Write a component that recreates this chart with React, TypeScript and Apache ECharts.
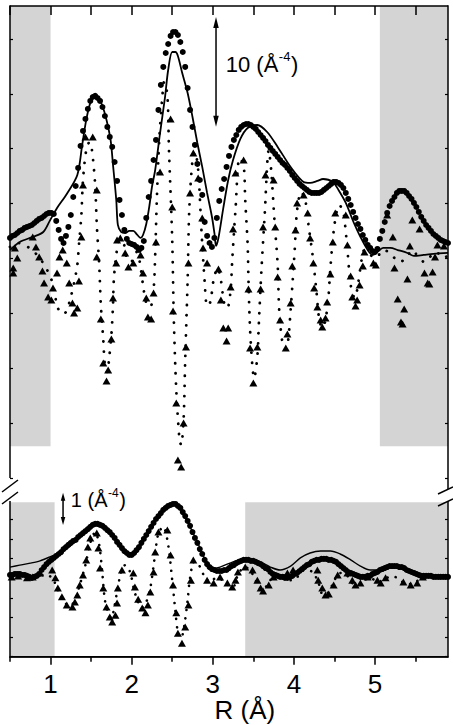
import React, { useEffect, useRef } from 'react';
import * as echarts from 'echarts';

const FONT = "'Liberation Sans', Arial, Helvetica, sans-serif";

// R grid of the measured magnitude (Å)
const R_START = 0.5;
const R_STEP = 0.03;

// x axis tick labels (Å)
const xTickLabels = [1, 2, 3, 4, 5];
const xMinorTicks = [0.5, 1.5, 2.5, 3.5, 4.5, 5.5];

// ---------- upper panel ----------
const topMagExp = [
  1.87, 2.05, 2.14, 2.32, 2.51, 2.6, 2.78, 2.87, 2.96, 3.05,
  3.23, 3.42, 3.6, 3.69, 3.87, 4.05, 4.15, 4.15, 4.05, 3.42,
  2.6, 1.78, 1.41, 2.05, 2.87, 3.96, 5.6, 6.6, 8.25, 10.25,
  11.62, 12.71, 13.62, 14.35, 14.71, 14.81, 14.62, 14.35, 13.8, 12.98,
  11.98, 11.07, 10.16, 8.79, 7.06, 5.33, 3.96, 2.6, 1.78, 1.41,
  1.32, 1.23, 1.05, 0.77, 0.96, 1.59, 3.69, 5.6, 7.06, 8.97,
  10.8, 13.53, 15.81, 17.45, 18.72, 19.54, 20.27, 20.63, 20.63, 20.36,
  19.72, 18.81, 17.45, 15.53, 13.53, 11.98, 10.34, 8.61, 7.15, 5.79,
  3.32, 2.05, 1.41, 1.05, 1.87, 3.69, 5.24, 6.33, 7.24, 8.34,
  9.34, 10.16, 10.8, 11.25, 11.71, 11.98, 12.16, 12.25, 12.25, 12.16,
  11.98, 11.8, 11.52, 11.25, 10.98, 10.7, 10.34, 10.07, 9.79, 9.52,
  9.25, 8.97, 8.7, 8.52, 8.24, 7.97, 7.61, 7.33, 7.06, 6.79,
  6.6, 6.42, 6.24, 6.06, 5.97, 5.97, 5.97, 5.97, 6.06, 6.24,
  6.42, 6.6, 6.79, 6.97, 6.97, 6.88, 6.7, 6.42, 5.97, 5.42,
  4.87, 4.24, 3.69, 3.14, 2.69, 2.14, 1.69, 1.23, 0.96, 0.68,
  0.59, 0.87, 1.78, 2.51, 3.32, 4.15, 4.78, 5.24, 5.6, 5.97,
  6.15, 6.15, 6.15, 5.97, 5.69, 5.42, 5.06, 4.69, 4.24, 3.78,
  3.42, 3.05, 2.78, 2.51, 2.23, 2.05, 1.87, 1.69, 1.59, 1.5, 1.41,
];

const topMagFit = [
  [0.5, 0.77], [0.62, 1.5], [0.78, 1.96], [0.91, 2.41], [0.99, 3.42], [1.08, 4.6], [1.2, 5.88],
  [1.33, 7.61], [1.39, 10.34], [1.44, 12.62], [1.49, 14.17], [1.54, 14.71], [1.59, 14.62],
  [1.64, 13.89], [1.69, 12.62], [1.74, 10.8], [1.77, 8.52], [1.81, 5.33], [1.83, 3.05],
  [1.87, 2.41], [1.92, 2.32], [1.97, 2.51], [2.02, 2.51], [2.07, 2.14], [2.11, 1.87],
  [2.14, 2.14], [2.18, 3.14], [2.22, 4.87], [2.25, 6.51], [2.29, 8.06], [2.35, 11.43],
  [2.41, 14.62], [2.45, 17.17], [2.5, 18.81], [2.54, 18.81], [2.57, 18.45], [2.62, 16.99],
  [2.69, 15.08], [2.75, 12.89], [2.81, 10.52], [2.87, 8.34], [2.93, 5.97], [2.99, 3.78],
  [3.02, 2.32], [3.04, 1.14], [3.07, 1.87], [3.13, 4.6], [3.19, 7.15], [3.25, 8.97],
  [3.34, 10.89], [3.43, 11.89], [3.55, 12.16], [3.67, 11.52], [3.8, 10.16], [3.96, 8.34],
  [4.12, 6.97], [4.2, 6.88], [4.29, 7.06], [4.36, 7.24], [4.48, 6.97], [4.55, 6.24],
  [4.64, 5.06], [4.74, 3.23], [4.82, 1.96], [4.91, 0.77], [4.97, 0.32], [5.03, 0.59],
  [5.1, 0.96], [5.19, 0.96], [5.28, 0.77], [5.4, 0.5], [5.48, 0.23], [5.6, 0.32],
  [5.72, 0.41], [5.9, 0.5],
];

const topImExp = [
  [0.54, -0.87], [0.54, -1.32], [0.56, 0.96], [0.59, 0.05], [0.78, 1.96], [0.82, 1.05], [0.86, 0.14],
  [0.9, -1.14], [0.92, -2.23], [0.97, -3.51], [1.01, -3.78], [1.03, -2.69], [1.08, -1.32],
  [1.11, 0.14], [1.15, 0.77], [1.2, -0.41], [1.23, -2.23], [1.27, -4.05], [1.29, -4.96],
  [1.33, -4.51], [1.35, -2.05], [1.38, 1.96], [1.4, 6.7], [1.43, 11.07], [1.52, 11.07],
  [1.57, 6.24], [1.57, 0.14], [1.62, -5.51], [1.65, -9.52], [1.69, -11.16], [1.71, -10.16],
  [1.75, -7.33], [1.77, -3.6], [1.81, -0.41], [1.82, 1.69], [1.86, 1.87], [1.92, 0.5],
  [1.96, -0.77], [2.02, -0.41], [2.11, 0.32], [2.14, -1.32], [2.18, -3.6], [2.2, -5.33],
  [2.24, -5.51], [2.27, -3.14], [2.3, 1.5], [2.35, 7.88], [2.48, 12.71], [2.5, 4.69],
  [2.51, -4.78], [2.55, -13.16], [2.57, -18.36], [2.61, -19.0], [2.64, -14.99], [2.67, -8.06],
  [2.7, -0.41], [2.72, 5.97], [2.76, 9.61], [2.82, 7.33], [2.87, 3.69], [2.88, 0.96],
  [2.93, -0.41], [3.07, -0.96], [3.1, -3.78], [3.13, -6.33], [3.17, -7.52], [3.19, -6.33],
  [3.22, -2.6], [3.25, 2.69], [3.28, 7.79], [3.38, 8.97], [3.44, -2.78], [3.46, -8.15],
  [3.5, -11.34], [3.55, -8.06], [3.59, -2.78], [3.62, 2.87], [3.65, 7.61], [3.75, 7.15],
  [3.77, 2.87], [3.8, -1.69], [3.83, -5.6], [3.9, -8.15], [3.92, -6.88], [3.96, -4.05],
  [3.98, -0.68], [4.02, 2.6], [4.04, 5.06], [4.12, 5.78], [4.17, 4.15], [4.2, 1.87],
  [4.24, -0.41], [4.25, -2.69], [4.29, -4.42], [4.33, -5.6], [4.35, -6.24], [4.39, -5.42],
  [4.41, -3.96], [4.45, -1.41], [4.48, 1.5], [4.51, 4.15], [4.64, 3.96], [4.66, 1.23],
  [4.7, -1.59], [4.72, -3.51], [4.76, -4.33], [4.78, -3.78], [4.81, -2.41], [4.85, -0.68],
  [4.87, 0.59], [4.98, -0.41], [5.01, -0.59], [5.15, 3.96], [5.22, 1.96], [5.24, -0.87],
  [5.28, -3.69], [5.32, -5.79], [5.34, -5.97], [5.36, -4.6], [5.4, -1.87], [5.43, 1.14],
  [5.46, 3.51], [5.55, 2.69], [5.61, -1.32], [5.65, -2.23], [5.67, -2.32], [5.71, -1.23],
  [5.74, 0.14], [5.77, 1.23], [5.85, 1.14],
];

const topImFit = [
  [0.5, 1.05], [0.6, 1.41], [0.7, 1.14], [0.8, 0.59], [0.9, -0.32], [0.97, -1.23], [1.02, -2.14],
  [1.06, -3.6], [1.09, -4.51], [1.14, -5.06], [1.19, -4.87], [1.24, -3.78], [1.29, -2.23],
  [1.33, -0.59], [1.35, 1.23], [1.38, 3.96], [1.4, 7.15], [1.44, 9.88], [1.48, 10.61],
  [1.51, 9.88], [1.55, 6.7], [1.57, 3.05], [1.6, -0.59], [1.62, -4.24], [1.65, -7.42],
  [1.67, -9.7], [1.7, -10.34], [1.72, -9.25], [1.75, -6.97], [1.77, -4.24], [1.78, -1.96],
  [1.81, 0.32], [1.85, 1.69], [1.9, 1.41], [1.94, 0.05], [1.99, -0.32], [2.06, 0.59],
  [2.1, -0.32], [2.14, -2.41], [2.18, -4.05], [2.23, -4.42], [2.27, -2.87], [2.29, 0.32],
  [2.31, 5.33], [2.34, 10.8], [2.38, 14.9], [2.4, 16.08], [2.44, 14.9], [2.46, 9.88],
  [2.5, 1.69], [2.52, -5.6], [2.55, -11.98], [2.59, -16.53], [2.61, -16.99], [2.64, -14.71],
  [2.66, -9.25], [2.69, -1.96], [2.71, 4.42], [2.75, 8.97], [2.78, 9.7], [2.82, 8.06],
  [2.86, 2.6], [2.9, -2.14], [2.93, -4.33], [2.97, -3.96], [3.01, -1.96], [3.06, -0.87],
  [3.1, -1.96], [3.14, -4.05], [3.18, -4.51], [3.22, -2.87], [3.24, -0.14], [3.28, 4.42],
  [3.33, 9.15], [3.38, 8.52], [3.4, 5.33], [3.43, 1.23], [3.44, -1.96], [3.46, -6.51],
  [3.49, -9.97], [3.51, -10.89], [3.55, -8.88], [3.57, -5.6], [3.6, -1.05], [3.64, 3.96],
  [3.69, 9.88], [3.72, 8.06], [3.76, 3.51], [3.8, -0.59], [3.82, -4.87], [3.86, -7.7],
  [3.9, -8.24], [3.93, -7.42], [3.96, -4.69], [3.98, -2.6], [4.01, 0.77], [4.04, 4.42],
  [4.09, 6.06], [4.14, 5.33], [4.18, 3.05], [4.23, 0.32], [4.28, -3.14], [4.31, -5.42],
  [4.35, -6.33], [4.39, -5.6], [4.43, -3.14], [4.45, -0.87], [4.5, 3.05], [4.56, 4.87],
  [4.61, 4.24], [4.66, 0.77], [4.7, -2.41], [4.75, -3.6], [4.78, -2.87], [4.82, -0.87],
  [4.87, 0.77], [4.94, 0.32], [5.02, 0.05], [5.09, 0.77], [5.17, 0.59], [5.24, 0.05],
  [5.31, -0.32], [5.39, 0.14], [5.46, 0.77], [5.54, 0.05], [5.61, -0.32], [5.69, 0.23],
  [5.76, 0.59], [5.83, 0.05], [5.9, 0.23],
];

// ---------- lower panel ----------
const botMagExp = [
  0.1, 0.1, 0.13, 0.13, 0.13, 0.1, 0.1, 0.07, 0.04, 0.01,
  0.04, 0.07, 0.13, 0.25, 0.34, 0.43, 0.5, 0.56, 0.62, 0.68,
  0.74, 0.8, 0.89, 0.95, 1.02, 1.08, 1.14, 1.17, 1.26, 1.32,
  1.38, 1.44, 1.5, 1.57, 1.63, 1.66, 1.66, 1.63, 1.6, 1.54,
  1.47, 1.41, 1.32, 1.23, 1.11, 1.02, 0.92, 0.83, 0.77, 0.71,
  0.71, 0.77, 0.86, 0.95, 1.08, 1.2, 1.32, 1.44, 1.57, 1.69,
  1.81, 1.9, 1.99, 2.09, 2.15, 2.21, 2.24, 2.27, 2.27, 2.21,
  2.15, 2.02, 1.9, 1.75, 1.6, 1.41, 1.23, 1.08, 0.89, 0.74,
  0.56, 0.43, 0.34, 0.28, 0.25, 0.22, 0.22, 0.22, 0.25, 0.25,
  0.31, 0.37, 0.4, 0.46, 0.5, 0.53, 0.56, 0.56, 0.56, 0.53,
  0.53, 0.5, 0.46, 0.43, 0.37, 0.31, 0.28, 0.19, 0.13, 0.1,
  0.07, 0.04, 0.04, 0.01, 0.01, 0.04, 0.07, 0.13, 0.16, 0.22,
  0.28, 0.34, 0.4, 0.43, 0.5, 0.53, 0.56, 0.56, 0.59, 0.59,
  0.59, 0.56, 0.56, 0.53, 0.5, 0.43, 0.37, 0.31, 0.25, 0.19,
  0.16, 0.13, 0.1, 0.07, 0.04, 0.04, 0.04, 0.07, 0.07, 0.13,
  0.16, 0.19, 0.25, 0.28, 0.31, 0.34, 0.37, 0.37, 0.37, 0.37,
  0.34, 0.34, 0.31, 0.25, 0.22, 0.19, 0.16, 0.13, 0.1, 0.07,
  0.07, 0.07, 0.07, 0.07, 0.04, 0.04, 0.04, 0.04, 0.04, 0.04, 0.04,
];

const botMagFit = [
  [0.5, 0.34], [0.62, 0.4], [0.75, 0.46], [0.87, 0.53], [0.99, 0.65], [1.12, 0.8], [1.24, 0.98],
  [1.4, 1.32], [1.57, 1.66], [1.73, 1.41], [1.9, 0.89], [1.98, 0.77], [2.1, 1.02], [2.27, 1.69],
  [2.44, 2.18], [2.5, 2.27], [2.6, 2.15], [2.72, 1.57], [2.81, 1.11], [2.91, 0.56], [3.01, 0.31],
  [3.09, 0.34], [3.25, 0.5], [3.34, 0.56], [3.44, 0.59], [3.52, 0.56], [3.62, 0.46], [3.71, 0.34],
  [3.83, 0.25], [3.96, 0.37], [4.08, 0.62], [4.2, 0.77], [4.33, 0.83], [4.45, 0.83], [4.57, 0.74],
  [4.7, 0.56], [4.82, 0.37], [4.94, 0.25], [5.03, 0.25], [5.13, 0.34], [5.23, 0.37], [5.31, 0.34],
  [5.44, 0.25], [5.56, 0.13], [5.75, 0.07], [5.9, 0.04],
];

const botImExp = [
  [0.52, 0.04], [0.6, 0.07], [0.71, 0.01], [0.78, 0.04], [0.87, 0.16], [1.02, 0.25], [1.06, 0.01],
  [1.09, -0.3], [1.14, -0.57], [1.2, -0.82], [1.27, -0.88], [1.3, -0.73], [1.33, -0.51],
  [1.36, -0.21], [1.4, 0.1], [1.44, 0.56], [1.46, 0.95], [1.49, 1.23], [1.57, 1.38], [1.59, 0.92],
  [1.61, 0.31], [1.65, -0.3], [1.69, -0.88], [1.73, -1.19], [1.76, -1.34], [1.8, -1.13],
  [1.82, -0.76], [1.83, -0.3], [1.88, 0.25], [2.02, 0.16], [2.04, -0.27], [2.08, -0.64],
  [2.13, -0.91], [2.17, -1.06], [2.2, -0.82], [2.23, -0.42], [2.27, 0.19], [2.29, 0.8],
  [2.33, 1.41], [2.44, 1.47], [2.48, 0.71], [2.51, -0.21], [2.55, -1.06], [2.57, -1.68],
  [2.62, -1.99], [2.66, -1.49], [2.7, -0.82], [2.73, -0.06], [2.76, 0.56], [2.93, -0.06],
  [3.01, -0.15], [3.09, 0.04], [3.18, -0.15], [3.24, -0.27], [3.28, -0.06], [3.31, 0.19],
  [3.4, 0.34], [3.49, 0.25], [3.55, -0.06], [3.59, -0.3], [3.62, -0.39], [3.69, -0.21],
  [3.75, 0.04], [3.92, 0.16], [3.99, 0.25], [4.29, 0.25], [4.3, -0.06], [4.35, -0.3],
  [4.39, -0.51], [4.43, -0.48], [4.49, -0.21], [4.54, 0.1], [4.66, 0.16], [4.72, -0.06],
  [4.76, -0.21], [4.82, -0.15], [4.91, 0.04], [5.03, -0.06], [5.07, -0.15], [5.13, 0.01],
  [5.35, -0.12], [5.44, -0.21], [5.52, -0.15], [5.59, 0.04],
];

const botImFit = [
  [0.5, 0.04], [0.62, 0.01], [0.78, 0.04], [0.93, 0.1], [1.02, 0.01], [1.09, -0.36], [1.17, -0.73],
  [1.24, -0.85], [1.3, -0.67], [1.36, -0.21], [1.43, 0.4], [1.49, 1.08], [1.55, 1.41], [1.6, 1.02],
  [1.64, 0.1], [1.67, -0.67], [1.71, -1.06], [1.75, -1.22], [1.78, -0.97], [1.82, -0.42],
  [1.87, 0.19], [1.92, 0.4], [1.98, 0.19], [2.03, -0.36], [2.08, -0.73], [2.13, -0.91],
  [2.18, -0.73], [2.23, -0.3], [2.28, 0.56], [2.33, 1.38], [2.39, 1.57], [2.45, 1.02],
  [2.5, -0.06], [2.54, -1.03], [2.57, -1.65], [2.61, -1.83], [2.65, -1.43], [2.69, -0.67],
  [2.72, 0.01], [2.77, 0.5], [2.83, 0.4], [2.9, 0.04], [2.97, -0.12], [3.04, 0.01], [3.12, -0.06],
  [3.19, -0.21], [3.25, -0.27], [3.31, 0.1], [3.39, 0.34], [3.46, 0.25], [3.54, -0.12],
  [3.61, -0.36], [3.69, -0.15], [3.76, 0.1], [3.86, 0.1], [3.96, -0.06], [4.03, 0.01],
  [4.13, 0.25], [4.23, 0.19], [4.3, -0.12], [4.36, -0.51], [4.43, -0.42], [4.5, -0.06],
  [4.57, 0.16], [4.65, 0.1], [4.72, -0.15], [4.8, -0.21], [4.87, -0.06], [4.94, 0.01],
  [5.04, -0.12], [5.14, 0.01], [5.24, 0.04], [5.34, -0.12], [5.44, -0.18], [5.54, -0.06],
  [5.64, 0.04], [5.76, 0.01], [5.9, 0.04],
];

// tick positions
const topYTicks = [-20, -15, -10, -5, 0, 5, 10, 15, 20];
const botYTicks = [-2.4, -1.8, -1.2, -0.6, 0, 0.6, 1.2, 1.8];
const topXTicks = [0.5, 1, 1.5, 2, 2.5, 3, 3.5, 4, 4.5, 5, 5.5];

// axis ranges
const X_RANGE = [0.5, 5.9];
const TOP_Y = [-20, 23];
const BOT_Y = [-2.4, 2.36];

// excluded (shaded) R ranges
const topShade = [[0.5, 1.0], [5.06, 5.9]];
const botShade = [[0.5, 1.05], [3.4, 5.9]];

const onGrid = (vals: number[]) => vals.map((v, i) => [+(R_START + i * R_STEP).toFixed(3), v]);

const BLACK = '#000';
const noLabel = () => ({ show: false });
const noSplit = () => ({ show: false });
const hiddenLine = () => ({ show: false, onZero: false });

// tick-only axes, shifted into the plot so that ticks point inwards
function yTicks(grid: number, pos: string, range: number[], ticks: number[]) {
  return {
    type: 'value', gridIndex: grid, position: pos, min: range[0], max: range[1], offset: -3, z: 10,
    axisLine: hiddenLine(),
    axisTick: { show: true, inside: false, length: 3, customValues: ticks, lineStyle: { color: BLACK, width: 1.2 } },
    axisLabel: noLabel(), splitLine: noSplit(),
  };
}

function buildOption() {
  const dotted = { color: BLACK, width: 2.8, type: [0.1, 10], cap: 'round' };
  const solid = { color: BLACK, opacity: 1 };
  return {
    animation: false,
    backgroundColor: '#fff',
    textStyle: { fontFamily: FONT },
    grid: [
      { left: 10, right: 5, top: 6, height: 472 },
      { left: 10, right: 5, top: 501, height: 155.7 },
    ],
    xAxis: [
      {
        type: 'value', gridIndex: 0, position: 'top', min: X_RANGE[0], max: X_RANGE[1], offset: -9, z: 10,
        axisLine: hiddenLine(),
        axisTick: { show: true, inside: false, length: 9, customValues: topXTicks, lineStyle: { color: BLACK, width: 1.5 } },
        axisLabel: noLabel(), splitLine: noSplit(),
      },
      {
        type: 'value', gridIndex: 1, position: 'bottom', min: X_RANGE[0], max: X_RANGE[1], interval: 0.5, z: 10,
        axisLine: { show: true, onZero: false, lineStyle: { color: BLACK, width: 1.5 } },
        axisTick: { show: true, inside: false, length: 5, customValues: xMinorTicks, lineStyle: { color: BLACK, width: 1.5 } },
        axisLabel: {
          show: true, customValues: xTickLabels, margin: 14, fontSize: 26, color: BLACK, fontFamily: FONT,
          formatter: (v: number) => (Number.isInteger(v) ? String(v) : ''),
        },
        splitLine: noSplit(),
      },
      {
        type: 'value', gridIndex: 1, position: 'bottom', min: X_RANGE[0], max: X_RANGE[1], interval: 0.5, z: 10,
        axisLine: hiddenLine(),
        axisTick: { show: true, inside: false, length: 8, customValues: xTickLabels, lineStyle: { color: BLACK, width: 1.5 } },
        axisLabel: noLabel(), splitLine: noSplit(),
      },
    ],
    yAxis: [
      yTicks(0, 'left', TOP_Y, topYTicks),
      yTicks(0, 'right', TOP_Y, topYTicks),
      yTicks(1, 'left', BOT_Y, botYTicks),
      yTicks(1, 'right', BOT_Y, botYTicks),
    ],
    series: [
      {
        type: 'line', xAxisIndex: 0, yAxisIndex: 0, data: [[0.5, 0]], showSymbol: false,
        lineStyle: { opacity: 0 }, silent: true, z: 1,
        markArea: {
          silent: true, itemStyle: { color: '#d4d4d4' },
          data: topShade.map(([a, b]) => [{ xAxis: a, yAxis: -17.1 }, { xAxis: b, yAxis: TOP_Y[1] }]),
        },
      },
      {
        type: 'line', xAxisIndex: 1, yAxisIndex: 2, data: [[0.5, 0]], showSymbol: false,
        lineStyle: { opacity: 0 }, silent: true, z: 1,
        markArea: {
          silent: true, itemStyle: { color: '#d4d4d4' },
          data: botShade.map(([a, b]) => [{ xAxis: a, yAxis: BOT_Y[0] }, { xAxis: b, yAxis: 2.32 }]),
        },
      },
      // upper panel
      { type: 'line', xAxisIndex: 0, yAxisIndex: 0, data: topImFit, smooth: 0.3, showSymbol: false, lineStyle: dotted, z: 3 },
      { type: 'scatter', xAxisIndex: 0, yAxisIndex: 0, data: topImExp, symbol: 'triangle', symbolSize: [8, 7], itemStyle: solid, z: 4 },
      { type: 'scatter', xAxisIndex: 0, yAxisIndex: 0, data: onGrid(topMagExp), symbol: 'circle', symbolSize: 6, itemStyle: solid, z: 5 },
      { type: 'line', xAxisIndex: 0, yAxisIndex: 0, data: topMagFit, smooth: 0.3, showSymbol: false, lineStyle: { color: BLACK, width: 1.8 }, z: 6 },
      // lower panel
      { type: 'line', xAxisIndex: 1, yAxisIndex: 2, data: botImFit, smooth: 0.3, showSymbol: false, lineStyle: { ...dotted, width: 2.6, type: [0.1, 8] }, z: 3 },
      { type: 'scatter', xAxisIndex: 1, yAxisIndex: 2, data: botImExp, symbol: 'triangle', symbolSize: [8, 7], itemStyle: solid, z: 4 },
      { type: 'scatter', xAxisIndex: 1, yAxisIndex: 2, data: onGrid(botMagExp), symbol: 'circle', symbolSize: 6, itemStyle: solid, z: 5 },
      { type: 'line', xAxisIndex: 1, yAxisIndex: 2, data: botMagFit, smooth: 0.3, showSymbol: false, lineStyle: { color: BLACK, width: 1.4 }, z: 6 },
    ],
  };
}

// scale bars and their labels (data coordinates)
const topBar = { r: 3.04, from: 12, to: 22 };
const topBarLabel = { r: 3.16, v: 17.7 };
const botBar = { r: 1.154, from: 1.63, to: 2.61 };
const botBarLabel = { r: 1.25, v: 2.38 };

export default function App() {
  const ref = useRef<HTMLDivElement>(null);
  useEffect(() => {
    document.body.style.margin = '0';
    const el = ref.current as HTMLDivElement;
    const chart = echarts.init(el, undefined, { renderer: 'svg' });
    chart.setOption(buildOption() as any);

    const toPx = (panel: number, r: number, v: number) =>
      chart.convertToPixel({ seriesIndex: panel === 0 ? 2 : 6 }, [r, v]) as number[];

    const line = (a: number[], b: number[], w = 1.5) => ({
      type: 'line', z: 20, shape: { x1: a[0], y1: a[1], x2: b[0], y2: b[1] }, style: { stroke: BLACK, lineWidth: w },
    });

    const arrow = (x: number, yTop: number, yBot: number, head: number, w: number) => [
      line([x, yTop + head * 0.7], [x, yBot - head * 0.7]),
      { type: 'polygon', shape: { points: [[x, yTop], [x - w / 2, yTop + head], [x + w / 2, yTop + head]] }, style: { fill: BLACK }, z: 20 },
      { type: 'polygon', shape: { points: [[x, yBot], [x - w / 2, yBot - head], [x + w / 2, yBot - head]] }, style: { fill: BLACK }, z: 20 },
    ];

    const tA = toPx(0, topBar.r, topBar.to);
    const tB = toPx(0, topBar.r, topBar.from);
    const tL = toPx(0, topBarLabel.r, topBarLabel.v);
    const bA = toPx(1, botBar.r, botBar.to);
    const bB = toPx(1, botBar.r, botBar.from);
    const bL = toPx(1, botBarLabel.r, botBarLabel.v);

    // frame corners
    const tTL = toPx(0, X_RANGE[0], TOP_Y[1]);
    const tTR = toPx(0, X_RANGE[1], TOP_Y[1]);
    const tBL = toPx(0, X_RANGE[0], TOP_Y[0]);
    const tBR = toPx(0, X_RANGE[1], TOP_Y[0]);
    const bTL = toPx(1, X_RANGE[0], BOT_Y[1]);
    const bTR = toPx(1, X_RANGE[1], BOT_Y[1]);
    const bBL = toPx(1, X_RANGE[0], BOT_Y[0]);
    const bBR = toPx(1, X_RANGE[1], BOT_Y[0]);

    const txt = (x: number, y: number, text: string, size: number) => ({
      type: 'text', x, y, z: 20,
      style: { text, fontSize: size, fontFamily: FONT, fill: BLACK, align: 'left', verticalAlign: 'middle' },
    });
    const measure = (s: string, size: number) => {
      const c = document.createElement('canvas').getContext('2d');
      if (!c) return s.length * size * 0.5;
      c.font = `${size}px ${FONT}`;
      return c.measureText(s).width;
    };
    // unit label: main text, superscript and closing parenthesis
    const unitLabel = (x: number, y: number, main: string, size: number, sup: number, supRise: number) => {
      const w1 = measure(main, size);
      const w2 = measure('-4', sup);
      return [
        txt(x, y, main, size),
        txt(x + w1 + 0.5, y - supRise, '-4', sup),
        txt(x + w1 + w2 + 1, y, ')', size),
      ];
    };

    chart.setOption({
      graphic: [
        // frame
        line([tTL[0], tTL[1]], [tTR[0], tTR[1]]),
        line([tTL[0], tTL[1] - 0.75], [tBL[0], tBL[1]]),
        line([tTR[0], tTR[1] - 0.75], [tBR[0], tBR[1] + 11]),
        line([bTL[0], bTL[1]], [bBL[0], bBL[1] + 0.75]),
        line([bTR[0], bTR[1]], [bBR[0], bBR[1] + 0.75]),
        line([bBL[0], bBL[1]], [bBR[0], bBR[1]]),
        // scale bars
        ...arrow(tA[0], tA[1], tB[1], 11, 5.5),
        ...arrow(bA[0], bA[1], bB[1], 8, 4.5),
        ...unitLabel(tL[0], tL[1], '10 (Å', 22, 13, 8),
        ...unitLabel(bL[0], bL[1], '1 (Å', 20, 12, 7),
        txt(214.5, 709.5, 'R (Å)', 26),
        // axis break marks
        line([2, 492], [18, 480]),
        line([2, 504], [18, 492]),
        line([438, 494], [453, 487]),
        line([438, 506], [453, 499]),
      ],
    } as any);

    return () => chart.dispose();
  }, []);
  return <div ref={ref} style={{ width: 453, height: 725, background: '#fff' }} />;
}
